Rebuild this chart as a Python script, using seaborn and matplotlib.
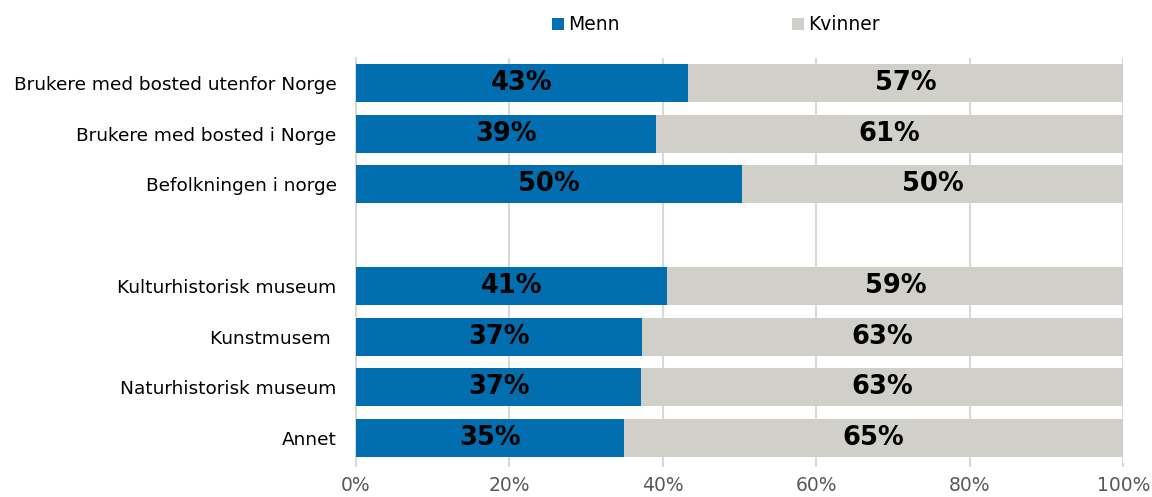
import pandas as pd
import matplotlib.pyplot as plt
import seaborn as sns

# values (share of men, percent)
categories = ["Brukere med bosted utenfor Norge", "Brukere med bosted i Norge",
              "Befolkningen i norge", " ", "Kulturhistorisk museum", "Kunstmusem ",
              "Naturhistorisk museum", "Annet"]
menn = [43.3, 39.1, 50.3, None, 40.6, 37.3, 37.2, 34.9]
ticks = [0, 20, 40, 60, 80, 100]
tick_labels = ["0%", "20%", "40%", "60%", "80%", "100%"]

blue = "#006EAF"
grey = "#D0CFCA"
gridc = "#D9D9D9"

df = pd.DataFrame({"kategori": categories, "Menn": menn})
df = df.dropna()
df["Kvinner"] = 100 - df["Menn"]
df["total"] = 100.0

plt.rcParams["font.family"] = ["DejaVu Sans"]
fig = plt.figure(figsize=(11.52, 4.97), dpi=100)
ax = fig.add_axes([0.309, 0.0676, 0.666, 0.8165])

sns.barplot(data=df, y="kategori", x="total", order=categories, color=grey,
            width=0.75, saturation=1, ax=ax, label="Kvinner", zorder=2)
sns.barplot(data=df, y="kategori", x="Menn", order=categories, color=blue,
            width=0.75, saturation=1, ax=ax, label="Menn", zorder=3)

for _, r in df.iterrows():
    yi = categories.index(r["kategori"])
    ax.text(r["Menn"] / 2, yi, f"{r['Menn']:.0f}%", ha="center", va="center",
            fontsize=18.5, fontweight="bold", color="black", zorder=4)
    ax.text(r["Menn"] + r["Kvinner"] / 2, yi, f"{r['Kvinner']:.0f}%", ha="center",
            va="center", fontsize=18.5, fontweight="bold", color="black", zorder=4)

ax.set_xlim(0, 100)
ax.set_ylim(len(categories) - 0.5, -0.5)
ax.set_xticks(ticks)
ax.set_xticklabels(tick_labels)
ax.set_xlabel("")
ax.set_ylabel("")
ax.xaxis.grid(True, color=gridc, linewidth=1.5, zorder=0)
ax.set_axisbelow(True)
for s in ["top", "right", "bottom"]:
    ax.spines[s].set_visible(False)
ax.spines["left"].set_color(gridc)
ax.spines["left"].set_linewidth(1.5)
ax.tick_params(axis="x", colors=gridc, labelcolor="#595959", labelsize=13.5,
               length=3, width=1.5, pad=6)
ax.tick_params(axis="y", length=0, labelsize=13.3, labelcolor="black", pad=14)

h, l = ax.get_legend_handles_labels()
order = [l.index("Menn"), l.index("Kvinner")]
fig.legend([h[i] for i in order], [l[i] for i in order], loc="center",
           bbox_to_anchor=(716 / 1152, 1 - 25 / 497), ncol=2, frameon=False,
           fontsize=13.5, handlelength=0.65, handleheight=0.65, handletextpad=0.2,
           columnspacing=9.2)
if ax.get_legend():
    ax.get_legend().remove()

fig.savefig("out.png", dpi=100)
